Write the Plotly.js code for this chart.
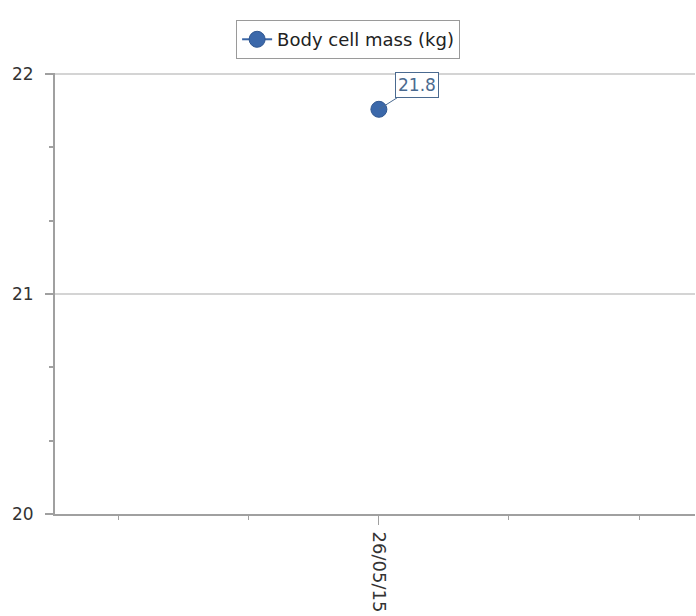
<!DOCTYPE html>
<html>
<head>
<meta charset="utf-8">
<script src="https://cdn.plot.ly/plotly-3.0.1.min.js"></script>
<style>html,body{margin:0;padding:0;background:#fff;}#chart{width:696px;height:616px;}</style>
</head>
<body>
<div id="chart"></div>
<script>
var seriesName = "Body cell mass (kg)";
var dates = ["26/05/15"];
var values = [21.84];
var yTicks = [20, 21, 22];

var xIdx = dates.map(function (d, i) { return i; });

var trace = {
  x: xIdx,
  y: values,
  name: seriesName,
  type: "scatter",
  mode: "lines+markers",
  line: {color: "#3a65a5", width: 2},
  marker: {color: "#3b68aa", size: 16, line: {color: "#2f5690", width: 1}},
  showlegend: true,
  hoverinfo: "y"
};

var annotations = values.map(function (v, i) {
  return {
    x: xIdx[i], y: v, xref: "x", yref: "y",
    text: v.toFixed(1),
    showarrow: true, arrowhead: 0, arrowwidth: 1, arrowcolor: "#4a6a90",
    ax: 38, ay: -24,
    bgcolor: "#ffffff", bordercolor: "#4a6a90", borderwidth: 1, borderpad: 2,
    font: {family: "DejaVu Sans", size: 17, color: "#4a6a90"}
  };
});

var layout = {
  width: 696, height: 616,
  margin: {l: 55, r: 1, t: 73, b: 102, pad: 0},
  paper_bgcolor: "#ffffff",
  plot_bgcolor: "#ffffff",
  font: {family: "DejaVu Sans", size: 17, color: "#333333"},
  showlegend: true,
  legend: {
    x: 0.283, y: 1.12, xanchor: "left", yanchor: "top",
    orientation: "h",
    bordercolor: "#9a9a9a", borderwidth: 1, bgcolor: "#ffffff",
    font: {family: "DejaVu Sans", size: 18, color: "#222222"}
  },
  xaxis: {
    type: "linear",
    range: [-2.49, 2.43],
    tickmode: "array",
    tickvals: xIdx,
    ticktext: dates,
    tickangle: 90,
    ticks: "outside", ticklen: 9, tickcolor: "#a0a0a0", tickwidth: 1,
    ticklabelstandoff: 3,
    showgrid: false, zeroline: false,
    showline: true, linecolor: "#a0a0a0", linewidth: 2,
    minor: {dtick: 1, tick0: 0, ticks: "outside", ticklen: 4, tickcolor: "#a0a0a0", showgrid: false},
    tickfont: {family: "DejaVu Sans", size: 18, color: "#333333"},
    fixedrange: true
  },
  yaxis: {
    range: [20, 22.005],
    tickmode: "array",
    tickvals: yTicks,
    ticktext: yTicks.map(String),
    ticks: "outside", ticklen: 8, tickcolor: "#a0a0a0", tickwidth: 2,
    ticklabelstandoff: 8,
    showgrid: true, gridcolor: "#d4d4d4", gridwidth: 1.5,
    zeroline: false,
    showline: true, linecolor: "#a0a0a0", linewidth: 2,
    minor: {dtick: 1/3, tick0: 20, ticks: "outside", ticklen: 4, tickcolor: "#a0a0a0", showgrid: false},
    tickfont: {family: "DejaVu Sans", size: 17, color: "#333333"},
    fixedrange: true
  },
  annotations: annotations
};

Plotly.newPlot("chart", [trace], layout, {displayModeBar: false, staticPlot: true});
</script>
</body>
</html>
